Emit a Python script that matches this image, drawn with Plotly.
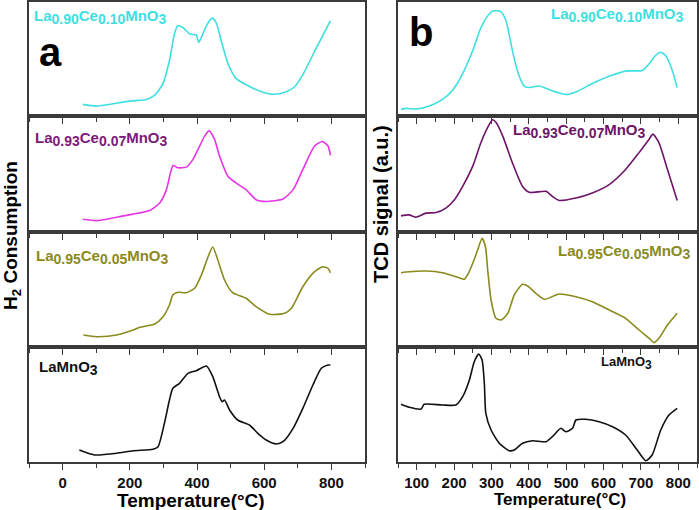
import plotly.graph_objects as go

# ---------------- Panel a: H2-TPR (H2 consumption, a.u.) ----------------
a_cyan_T = [60, 101, 200, 250, 274, 299, 318, 333, 343, 358, 378, 393, 398, 405, 413, 428, 445, 457, 472, 492, 516, 555, 594, 629, 664, 689, 714, 754, 797]
a_cyan_y = [11.7, 10, 15, 16.7, 21, 33, 56, 83, 91, 89.3, 83, 82, 82, 74.3, 79.3, 91, 98.7, 94.3, 76, 53, 38, 30, 24.3, 22, 24.3, 29, 41, 68, 96]

a_mag_T = [60, 101, 161, 210, 259, 289, 309, 321, 329, 343, 368, 388, 408, 423, 436, 452, 467, 492, 516, 546, 576, 606, 656, 686, 715, 750, 773, 790, 797]
a_mag_y = [12.7, 11.3, 14.7, 17.7, 21.3, 28.7, 42, 58.7, 66, 63.7, 64.3, 72, 85.3, 95.3, 100.3, 92, 75.3, 55.3, 48.7, 42, 32, 30.3, 32.7, 42, 62, 85.3, 89.7, 85.3, 76]

a_oli_T = [62, 101, 161, 210, 230, 274, 299, 318, 328, 343, 368, 393, 413, 433, 447, 462, 482, 506, 546, 576, 616, 661, 681, 715, 750, 774, 790, 797]
a_oli_y = [12, 10.3, 12, 17, 19.7, 23, 30.3, 42, 52, 54.7, 54.3, 58.7, 72, 90.3, 100, 87, 67, 54.3, 48.7, 40.3, 32.7, 33.7, 38.7, 60.3, 75.3, 80.3, 78.7, 74.3]

a_blk_T = [50, 71, 96, 161, 210, 269, 284, 303, 318, 328, 348, 373, 398, 428, 447, 467, 475, 482, 497, 521, 556, 581, 606, 636, 656, 686, 715, 745, 770, 790, 797]
a_blk_y = [12, 9.3, 7, 8.7, 11.3, 12.7, 15.3, 38.7, 62, 73.7, 78.7, 88.7, 91.3, 96, 85.3, 65.3, 60.3, 62, 52, 42, 37, 28.7, 22, 18, 20.3, 33.7, 53.7, 77, 93.7, 97, 97]

# ---------------- Panel b: TCD signal (a.u.) ----------------
b_cyan_T = [58, 71.5, 98, 134, 169, 196, 223, 250, 272, 290, 303, 325, 339, 356, 372, 388, 401, 428, 454, 499, 526, 570, 615, 659, 704, 722, 739, 753, 766, 784, 797]
b_cyan_y = [6.7, 7.7, 7, 10, 16.7, 26, 42.7, 66, 89.3, 101, 106, 105.3, 96, 66, 42.7, 30, 28.7, 30.3, 26.7, 21.7, 24.3, 32.7, 40, 45.3, 46, 52.7, 61, 64.3, 61, 46, 28.7]

b_pur_T = [58, 80, 98, 125, 152, 178, 201, 223, 250, 272, 290, 303, 312, 330, 356, 383, 401, 446, 463, 481, 526, 570, 615, 659, 695, 722, 732, 748, 771, 797]
b_pur_y = [16, 17, 14.7, 18.7, 19.3, 23.7, 32, 45.3, 65.3, 88.7, 103.7, 111.3, 108.7, 95.3, 68.7, 45.3, 39.3, 40.3, 35.3, 31.3, 33.7, 38.7, 47, 62, 78.7, 92, 97, 88.7, 62, 31.3]

b_oli_T = [58, 80, 125, 169, 205, 227, 236, 250, 263, 275, 284, 290, 299, 312, 326, 344, 361, 383, 397, 419, 442, 481, 526, 570, 615, 659, 695, 722, 735, 748, 771, 797]
b_oli_y = [74.3, 75.3, 76, 74.3, 70.3, 67.7, 72, 83.7, 97, 108.7, 100.3, 77, 47, 28.7, 27, 33.7, 52, 62.7, 61, 53.7, 47.7, 53, 50.3, 45.3, 37, 28.7, 17, 8.7, 4.3, 8.7, 22, 33.7]

b_blk_T = [58, 80, 112, 120, 169, 205, 223, 241, 254, 266, 275, 281, 285, 299, 321, 348, 361, 383, 410, 446, 463, 486, 499, 517, 526, 552, 588, 624, 659, 690, 713, 730, 753, 775, 797]
b_blk_y = [57.7, 54.7, 53, 57.7, 57, 57, 65.3, 82, 100.3, 108, 102, 78.7, 48.7, 32, 18.7, 11.3, 12, 18.7, 21.3, 20.3, 25.3, 33.7, 30.3, 33.7, 42, 42.7, 40.3, 35.3, 27, 12, 1.3, 7, 32, 47, 53.7]

def sub(t, s=14):
    return f"<sub><span style='font-size:{s}px'>{t}</span></sub>"

def formula(a, b, s=14):
    return "La" + sub(a, s) + "Ce" + sub(b, s) + "MnO" + sub("3", s)

labels = [formula("0.90", "0.10"), formula("0.93", "0.07"), formula("0.95", "0.05"), "LaMnO" + sub("3")]
label_b4 = "LaMnO" + sub("3", 12)

a_ticks = [0, 200, 400, 600, 800]
b_ticks = [100, 200, 300, 400, 500, 600, 700, 800]

W, H = 699, 510
def px(x): return x / W
def py(y): return 1 - y / H

rows_px = [(2, 116), (116, 232), (232, 347), (347, 462)]
left_x = (29, 365)
right_x = (398, 697)

cyan = "#3EDFE0"
magenta = "#E535E5"
purple_lbl = "#7B1B7B"
purple = "#6E1468"
olive = "#8A8A1E"
black = "#111111"

fig = go.Figure()
axcol = "#3a3a3a"
font_fam = "Liberation Sans, Arial, sans-serif"

series = [
    (a_cyan_T, a_cyan_y, cyan, 0, 0),
    (a_mag_T, a_mag_y, magenta, 0, 1),
    (a_oli_T, a_oli_y, olive, 0, 2),
    (a_blk_T, a_blk_y, black, 0, 3),
    (b_cyan_T, b_cyan_y, cyan, 1, 0),
    (b_pur_T, b_pur_y, purple, 1, 1),
    (b_oli_T, b_oli_y, olive, 1, 2),
    (b_blk_T, b_blk_y, black, 1, 3),
]

layout = dict(width=W, height=H, autosize=False, margin=dict(l=0, r=0, t=0, b=0, pad=0),
              paper_bgcolor="white", plot_bgcolor="white", showlegend=False)

for i, (T, y, c, panel, row) in enumerate(series):
    n = i + 1
    xa = "x" if n == 1 else f"x{n}"
    ya = "y" if n == 1 else f"y{n}"
    fig.add_trace(go.Scatter(x=T, y=y, mode="lines", xaxis=xa, yaxis=ya,
                             line=dict(color=c, width=1.6, shape="spline", smoothing=0.6),
                             hoverinfo="skip"))
    xd = left_x if panel == 0 else right_x
    y0, y1 = rows_px[row]
    bottom = row == 3
    if panel == 0:
        rng = [-100, 900]
        tv = a_ticks
        minor = dict(dtick=100, tick0=0, ticklen=4, ticks="outside", tickcolor=axcol, tickwidth=1.3)
    else:
        rng = [50, 850]
        tv = b_ticks
        minor = dict(dtick=50, tick0=0, ticklen=4, ticks="outside", tickcolor=axcol, tickwidth=1.3)
    layout["xaxis" if n == 1 else f"xaxis{n}"] = dict(
        domain=[px(xd[0]), px(xd[1])], range=rng, anchor=ya,
        showline=True, mirror=True, linecolor=axcol, linewidth=1.5,
        showgrid=False, zeroline=False, automargin=False,
        tickmode="array", tickvals=tv, ticks="outside", ticklen=6, tickwidth=1.3, tickcolor=axcol,
        minor=minor,
        showticklabels=bottom,
        tickfont=dict(family=font_fam, size=15, color="#111", weight="bold"),
    )
    layout["yaxis" if n == 1 else f"yaxis{n}"] = dict(
        domain=[py(y1), py(y0)], range=[0, 115], anchor=xa,
        showline=True, mirror=True, linecolor=axcol, linewidth=1.5, automargin=False,
        showgrid=False, zeroline=False, ticks="", showticklabels=False,
    )

fig.update_layout(**layout)

ann = []
lblfont = lambda c, s=15: dict(family=font_fam, size=s, color=c, weight="bold")
# panel a labels
ann.append(dict(x=px(32), y=py(17), text=labels[0], font=lblfont(cyan), xanchor="left", yanchor="middle"))
ann.append(dict(x=px(33), y=py(139), text=labels[1], font=lblfont(purple_lbl), xanchor="left", yanchor="middle"))
ann.append(dict(x=px(34), y=py(257), text=labels[2], font=lblfont(olive), xanchor="left", yanchor="middle"))
ann.append(dict(x=px(37), y=py(368), text=labels[3], font=lblfont(black), xanchor="left", yanchor="middle"))
# panel b labels
ann.append(dict(x=px(686), y=py(15), text=labels[0], font=lblfont(cyan), xanchor="right", yanchor="middle"))
ann.append(dict(x=px(511), y=py(131), text=labels[1], font=lblfont(purple), xanchor="left", yanchor="middle"))
ann.append(dict(x=px(693), y=py(252), text=labels[2], font=lblfont(olive), xanchor="right", yanchor="middle"))
ann.append(dict(x=px(599), y=py(363), text=label_b4, font=lblfont(black, 13), xanchor="left", yanchor="middle"))
# panel letters
ann.append(dict(x=px(50), y=py(52), text="a", font=dict(family=font_fam, size=40, color="black", weight="bold"), xanchor="center", yanchor="middle"))
ann.append(dict(x=px(421), y=py(32), text="b", font=dict(family=font_fam, size=40, color="black", weight="bold"), xanchor="center", yanchor="middle"))
# axis titles
ann.append(dict(x=px(191), y=py(500), text="Temperature(°C)", font=dict(family=font_fam, size=19, color="black", weight="bold"), xanchor="center", yanchor="middle"))
ann.append(dict(x=px(560), y=py(499), text="Temperature(°C)", font=dict(family=font_fam, size=17, color="black", weight="bold"), xanchor="center", yanchor="middle"))
ann.append(dict(x=px(12), y=py(236), text="H<sub>2</sub> Consumption", textangle=-90, font=dict(family=font_fam, size=19, color="black", weight="bold"), xanchor="center", yanchor="middle"))
ann.append(dict(x=px(381), y=py(204), text="TCD signal (a.u.)", textangle=-90, font=dict(family=font_fam, size=20, color="black", weight="bold"), xanchor="center", yanchor="middle"))
for a in ann:
    a.update(xref="paper", yref="paper", showarrow=False)
fig.update_layout(annotations=ann)

fig.write_html("out.html", config={"displayModeBar": False},
               post_script="document.body.style.margin='0';document.body.style.padding='0';")
